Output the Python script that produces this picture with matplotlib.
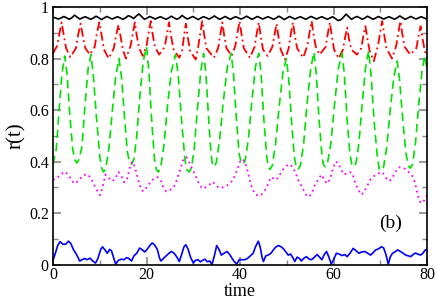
import matplotlib
matplotlib.use("Agg")
import matplotlib.pyplot as plt
import numpy as np
from matplotlib.ticker import MultipleLocator, FuncFormatter

# ---------------- data ----------------
black_t = [i * 0.575 for i in range(140)] + [80.0]
black_v = [
    0.960, 0.957, 0.953, 0.957, 0.963, 0.958, 0.952, 0.958,
    0.968, 0.960, 0.953, 0.958, 0.962, 0.957, 0.952, 0.957,
    0.964, 0.958, 0.951, 0.957, 0.963, 0.958, 0.953, 0.958,
    0.962, 0.957, 0.952, 0.958, 0.966, 0.962, 0.955, 0.965,
    0.973, 0.962, 0.952, 0.957, 0.963, 0.958, 0.953, 0.958,
    0.962, 0.957, 0.952, 0.957, 0.964, 0.958, 0.952, 0.957,
    0.967, 0.959, 0.953, 0.958, 0.963, 0.957, 0.951, 0.957,
    0.962, 0.958, 0.953, 0.958, 0.965, 0.958, 0.952, 0.957,
    0.963, 0.957, 0.952, 0.958, 0.962, 0.957, 0.953, 0.958,
    0.964, 0.958, 0.952, 0.957, 0.963, 0.958, 0.953, 0.958,
    0.962, 0.957, 0.952, 0.957, 0.964, 0.958, 0.951, 0.957,
    0.963, 0.958, 0.953, 0.958, 0.962, 0.957, 0.952, 0.958,
    0.963, 0.958, 0.953, 0.958, 0.962, 0.957, 0.952, 0.957,
    0.962, 0.955, 0.947, 0.950, 0.960, 0.972, 0.962, 0.952,
    0.958, 0.963, 0.958, 0.952, 0.957, 0.964, 0.958, 0.952,
    0.957, 0.963, 0.958, 0.953, 0.958, 0.962, 0.957, 0.952,
    0.958, 0.965, 0.958, 0.952, 0.957, 0.963, 0.958, 0.953,
    0.958, 0.962, 0.957, 0.953, 0.960,
]

red_t = [0.0,
         0.9, 1.4, 1.85, 2.3, 2.8, 3.7,
         4.9, 5.4, 5.9, 6.4, 6.9, 7.9,
         8.9, 9.4, 9.9, 10.4, 10.9, 11.9,
         13.0, 13.5, 14.0, 14.5, 15.0, 15.6,
         16.6, 17.1, 17.5, 17.9, 18.4, 19.2,
         20.0, 20.5, 20.9, 21.3, 21.8, 22.7,
         23.9, 24.4, 24.8, 25.2, 25.8, 27.0,
         27.6, 28.0, 28.4, 28.8, 29.3, 30.5,
         31.0, 31.5, 31.9, 32.3, 32.8, 34.4,
         35.3, 35.8, 36.2, 36.6, 37.1, 38.2,
         39.0, 39.5, 39.9, 40.3, 40.8, 42.1,
         43.1, 43.6, 44.0, 44.4, 44.9, 45.9,
         46.9, 47.4, 47.8, 48.2, 48.7, 49.6,
         50.4, 50.9, 51.3, 51.7, 52.2, 53.5,
         54.4, 54.9, 55.3, 55.7, 56.2, 57.0,
         58.3, 58.8, 59.2, 59.6, 60.1, 61.1,
         62.0, 62.5, 62.9, 63.3, 63.8, 65.0,
         65.9, 66.4, 66.8, 67.2, 67.7, 68.6,
         69.5, 70.0, 70.4, 70.8, 71.3, 72.5,
         73.4, 73.9, 74.3, 74.7, 75.2, 76.4,
         77.7, 78.2, 78.6, 79.0, 79.5, 80.0]
red_v = [0.82,
         0.85, 0.90, 0.94, 0.89, 0.84, 0.805,
         0.84, 0.895, 0.935, 0.885, 0.84, 0.815,
         0.845, 0.90, 0.94, 0.89, 0.835, 0.80,
         0.84, 0.89, 0.93, 0.88, 0.83, 0.80,
         0.85, 0.90, 0.94, 0.89, 0.84, 0.81,
         0.85, 0.905, 0.945, 0.895, 0.845, 0.815,
         0.845, 0.90, 0.94, 0.89, 0.835, 0.803,
         0.83, 0.885, 0.935, 0.885, 0.83, 0.796,
         0.84, 0.90, 0.945, 0.895, 0.84, 0.803,
         0.84, 0.895, 0.94, 0.89, 0.84, 0.81,
         0.85, 0.905, 0.945, 0.895, 0.84, 0.803,
         0.845, 0.90, 0.94, 0.89, 0.835, 0.81,
         0.845, 0.895, 0.935, 0.885, 0.835, 0.796,
         0.84, 0.90, 0.94, 0.89, 0.84, 0.803,
         0.85, 0.905, 0.945, 0.895, 0.845, 0.815,
         0.845, 0.90, 0.94, 0.89, 0.835, 0.80,
         0.835, 0.885, 0.92, 0.875, 0.835, 0.815,
         0.84, 0.89, 0.925, 0.88, 0.83, 0.79,
         0.85, 0.905, 0.945, 0.895, 0.84, 0.80,
         0.85, 0.905, 0.945, 0.895, 0.845, 0.815,
         0.84, 0.89, 0.925, 0.88, 0.83, 0.80]

green_t = [0.0, 0.7, 1.3, 1.9, 2.5, 3.0, 3.6, 4.2, 4.6, 5.1, 5.6,
           6.2, 6.8, 7.5, 8.1, 8.6, 9.3, 10.0, 10.4, 10.8, 11.3,
           12.0, 12.7, 13.4, 14.1, 14.7, 15.3, 15.9, 16.3, 16.8, 17.3,
           17.9, 18.6, 19.3, 20.0, 20.5, 21.1, 21.7, 22.1, 22.5, 23.0,
           23.7, 24.5, 25.3, 26.2, 26.8, 27.5, 28.2, 28.6, 29.1, 29.6,
           30.2, 30.9, 31.6, 32.2, 32.7, 33.3, 33.8, 34.1, 34.4, 34.9,
           35.6, 36.4, 37.3, 38.1, 38.6, 39.2, 39.8, 40.2, 40.6, 41.1,
           41.8, 42.5, 43.3, 44.0, 44.5, 45.1, 45.7, 46.0, 46.4, 46.9,
           47.6, 48.4, 49.2, 49.9, 50.4, 51.0, 51.6, 52.0, 52.4, 52.9,
           53.6, 54.3, 55.1, 55.8, 56.3, 56.9, 57.5, 57.8, 58.2, 58.7,
           59.4, 60.2, 61.0, 61.8, 62.3, 62.9, 63.5, 63.9, 64.3, 64.8,
           65.4, 66.1, 66.8, 67.5, 68.0, 68.7, 69.4, 69.8, 70.2, 70.7,
           71.4, 72.1, 72.9, 73.6, 74.1, 74.8, 75.5, 76.0, 76.4, 76.9,
           77.5, 78.2, 78.9, 79.5, 80.0]
green_v = [0.39, 0.45, 0.60, 0.74, 0.81, 0.74, 0.58, 0.45, 0.41, 0.395, 0.41,
           0.46, 0.61, 0.76, 0.815, 0.74, 0.57, 0.42, 0.375, 0.36, 0.375,
           0.46, 0.60, 0.73, 0.80, 0.72, 0.57, 0.44, 0.40, 0.39, 0.41,
           0.50, 0.66, 0.79, 0.845, 0.75, 0.56, 0.41, 0.37, 0.36, 0.375,
           0.46, 0.62, 0.75, 0.815, 0.73, 0.56, 0.41, 0.37, 0.36, 0.375,
           0.45, 0.61, 0.75, 0.82, 0.74, 0.56, 0.43, 0.39, 0.38, 0.395,
           0.48, 0.63, 0.77, 0.82, 0.74, 0.57, 0.43, 0.40, 0.39, 0.405,
           0.49, 0.63, 0.77, 0.82, 0.74, 0.56, 0.42, 0.38, 0.37, 0.385,
           0.47, 0.62, 0.75, 0.80, 0.72, 0.56, 0.42, 0.38, 0.37, 0.385,
           0.47, 0.62, 0.76, 0.825, 0.74, 0.56, 0.43, 0.39, 0.38, 0.395,
           0.47, 0.62, 0.76, 0.82, 0.74, 0.56, 0.43, 0.39, 0.38, 0.395,
           0.47, 0.62, 0.76, 0.83, 0.74, 0.55, 0.41, 0.37, 0.365, 0.38,
           0.46, 0.60, 0.73, 0.79, 0.72, 0.56, 0.43, 0.385, 0.375, 0.39,
           0.47, 0.62, 0.75, 0.81, 0.76]

magenta_t = [0.0, 0.8, 1.6, 2.6, 3.4, 4.5, 5.4, 6.3, 7.2, 8.0, 8.8, 9.5, 10.0,
             10.6, 11.2, 11.8, 12.5, 13.2, 14.0, 14.6, 15.2, 15.8, 16.4, 16.9,
             17.5, 18.2, 18.9, 19.4, 20.0, 20.8, 21.6, 22.4, 23.0, 23.6, 24.2,
             25.0, 25.8, 26.5, 27.2, 27.8, 28.5, 29.2, 29.8, 30.4, 31.2, 31.9,
             32.6, 33.4, 34.1, 34.8, 35.5, 36.2, 37.0, 37.8, 38.5, 39.2, 40.0,
             40.6, 41.2, 41.8, 42.5, 43.2, 43.8, 44.5, 45.2, 45.9, 46.6, 47.2,
             47.8, 48.5, 49.2, 50.0, 50.6, 51.2, 51.8, 52.4, 53.0, 53.6, 54.2,
             54.8, 55.4, 56.0, 56.7, 57.4, 58.0, 58.6, 59.2, 59.8, 60.4, 61.0,
             61.6, 62.2, 62.8, 63.4, 64.0, 64.6, 65.3, 66.0, 66.6, 67.3, 68.0,
             68.7, 69.4, 70.0, 70.6, 71.3, 72.0, 72.6, 73.2, 73.9, 74.6, 75.3,
             76.0, 76.7, 77.4, 78.0, 78.6, 79.2, 80.0]
magenta_v = [0.33, 0.335, 0.35, 0.362, 0.345, 0.315, 0.325, 0.345, 0.352, 0.34, 0.31, 0.285, 0.27,
             0.30, 0.35, 0.34, 0.325, 0.33, 0.36, 0.345, 0.32, 0.33, 0.375, 0.40,
             0.38, 0.33, 0.29, 0.285, 0.30, 0.32, 0.335, 0.34, 0.33, 0.30, 0.285,
             0.29, 0.30, 0.33, 0.37, 0.405, 0.418, 0.395, 0.37, 0.35, 0.315, 0.296,
             0.30, 0.31, 0.322, 0.31, 0.298, 0.30, 0.305, 0.315, 0.33, 0.36, 0.40,
             0.41, 0.39, 0.35, 0.30, 0.275, 0.268, 0.272, 0.285, 0.31, 0.34, 0.335,
             0.33, 0.35, 0.37, 0.385, 0.39, 0.38, 0.36, 0.33, 0.31, 0.29, 0.27,
             0.264, 0.28, 0.31, 0.33, 0.35, 0.33, 0.315, 0.33, 0.37, 0.40, 0.395,
             0.37, 0.35, 0.355, 0.36, 0.355, 0.32, 0.29, 0.272, 0.285, 0.31, 0.335,
             0.345, 0.35, 0.36, 0.355, 0.335, 0.325, 0.34, 0.36, 0.378, 0.378, 0.372,
             0.36, 0.35, 0.32, 0.27, 0.24, 0.245, 0.27]

blue_t = [0.0, 0.5, 1.0, 1.5, 2.1, 2.7, 3.3, 3.8, 4.4, 5.1, 5.7, 6.2, 6.8, 7.3, 7.9,
          8.5, 9.1, 9.6, 10.2, 10.6, 11.1, 11.6, 12.1, 12.5, 13.0, 13.4, 14.0, 14.6,
          15.2, 15.7, 16.2, 16.8, 17.3, 17.9, 18.5, 19.0, 19.6, 20.2, 20.7, 21.2,
          21.7, 22.3, 22.8, 23.1, 23.6, 24.2, 24.8, 25.3, 25.9, 26.5, 27.0, 27.5,
          28.0, 28.4, 28.9, 29.4, 30.0, 30.5, 31.0, 31.5, 32.0, 32.5, 33.0, 33.5,
          34.0, 34.5, 35.0, 35.5, 36.0, 36.6, 37.2, 37.8, 38.3, 38.8, 39.3, 39.8,
          40.4, 41.0, 41.6, 42.2, 42.8, 43.3, 43.9, 44.3, 44.7, 45.0, 45.5, 46.0,
          46.6, 47.2, 47.7, 48.2, 48.8, 49.3, 49.8, 50.3, 50.8, 51.3, 51.7, 52.2,
          52.7, 53.1, 53.6, 54.2, 54.8, 55.3, 55.9, 56.5, 57.0, 57.5, 58.0, 58.5,
          59.0, 59.5, 60.0, 60.6, 61.2, 61.8, 62.4, 62.9, 63.5, 64.2, 64.8, 65.4,
          66.0, 66.7, 67.3, 67.9, 68.5, 69.0, 69.6, 70.2, 70.7, 71.2, 71.7, 72.1,
          72.6, 73.1, 73.7, 74.3, 74.9, 75.4, 76.0, 76.5, 77.0, 77.5, 78.0, 78.6,
          79.1, 79.6, 80.0]
blue_v = [0.018, 0.045, 0.075, 0.09, 0.08, 0.08, 0.092, 0.083, 0.058, 0.038, 0.015, 0.02, 0.025, 0.02, 0.026,
          0.015, 0.007, 0.025, 0.06, 0.07, 0.058, 0.045, 0.06, 0.055, 0.025, 0.003, 0.018, 0.022,
          0.02, 0.028, 0.025, 0.015, 0.035, 0.045, 0.065, 0.06, 0.05, 0.062, 0.075, 0.085,
          0.078, 0.06, 0.025, 0.015, 0.025, 0.035, 0.045, 0.052, 0.045, 0.03, 0.013, 0.04,
          0.07, 0.078, 0.06, 0.03, 0.007, 0.018, 0.02, 0.012, 0.018, 0.022, 0.012, 0.015,
          0.002, 0.035, 0.075, 0.06, 0.038, 0.045, 0.052, 0.04, 0.025, 0.012, 0.003, 0.02,
          0.02, 0.02, 0.025, 0.035, 0.045, 0.07, 0.092, 0.07, 0.03, 0.013, 0.035, 0.038,
          0.045, 0.06, 0.07, 0.075, 0.07, 0.062, 0.05, 0.038, 0.042, 0.028, 0.013, 0.03,
          0.025, 0.015, 0.025, 0.032, 0.022, 0.02, 0.03, 0.04, 0.03, 0.02, 0.04, 0.052,
          0.03, 0.003, 0.02, 0.045, 0.042, 0.036, 0.04, 0.032, 0.045, 0.064, 0.055, 0.045,
          0.05, 0.052, 0.045, 0.038, 0.048, 0.058, 0.062, 0.07, 0.066, 0.04, 0.002, 0.03,
          0.045, 0.05, 0.058, 0.052, 0.045, 0.038, 0.035, 0.032, 0.04, 0.046, 0.042, 0.038,
          0.045, 0.058, 0.06]

x_ticks = [0, 20, 40, 60, 80]
y_ticks = [0, 0.2, 0.4, 0.6, 0.8, 1]
x_label = "time"
y_label = "r(t)"
panel_label = "(b)"

# ---------------- figure ----------------
plt.rcParams['font.family'] = ['Liberation Serif', 'DejaVu Serif']
fig = plt.figure(figsize=(4.36, 3.01), dpi=100)
ax = fig.add_axes([0.1216, 0.12, 0.858, 0.857])

ax.plot(black_t, black_v, color='black', lw=1.2, ls='-')
ax.plot(red_t, red_v, color='#ff0000', lw=1.3, ls=(0, (5, 2, 1, 2)))
ax.plot(green_t, green_v, color='#00e000', lw=1.2, ls=(0, (5, 3)))
ax.plot(magenta_t, magenta_v, color='#ff00ff', lw=1.3, ls=(0, (1, 2)))
ax.plot(blue_t, blue_v, color='#0000ff', lw=1.2, ls='-')

ax.set_xlim(0, 80)
ax.set_ylim(0, 1)
ax.set_xticks(x_ticks)
ax.set_yticks(y_ticks)
ax.xaxis.set_minor_locator(MultipleLocator(10))
ax.yaxis.set_minor_locator(MultipleLocator(0.1))
ax.yaxis.set_major_formatter(FuncFormatter(lambda v, p: ('%g' % v)))
ax.tick_params(which='both', direction='in', top=True, right=True,
               labelsize=11.5, color='#888888')
ax.tick_params(axis='x', pad=1.5)
ax.tick_params(axis='y', pad=3)
ax.tick_params(which='major', length=6, width=1.2)
ax.tick_params(which='minor', length=3.5, width=1.0)
for s in ax.spines.values():
    s.set_linewidth(1.2)

ax.set_xlabel(x_label, fontsize=13, labelpad=0)
ax.set_ylabel(y_label, fontsize=15, labelpad=2)
ax.text(72.2, 0.16, panel_label, fontsize=14, ha='center', va='center')

fig.savefig('out.png', dpi=100)
